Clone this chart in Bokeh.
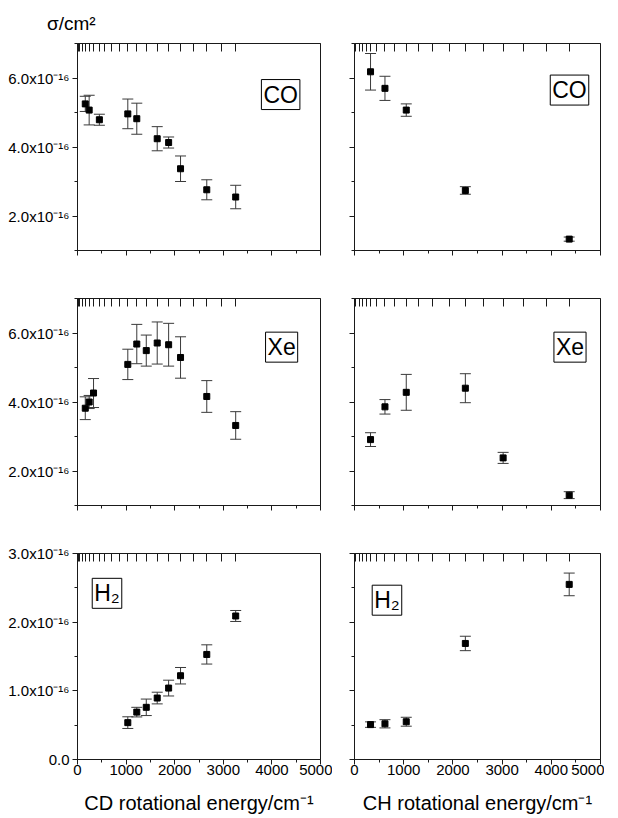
from bokeh.plotting import figure
from bokeh.models import (ColumnDataSource, Whisker, TeeHead, Label, LinearAxis, FixedTicker,
                          SingleIntervalTicker, CustomJSTickFormatter, Range1d, Div)
from bokeh.layouts import column, row
from bokeh.embed import file_html
from bokeh.resources import INLINE

# cross sections in units of 1e-16 cm^2
cd_levels = [16, 47, 94, 160, 240, 330, 450, 562, 702, 858, 1035, 1220, 1415, 1640,
             1875, 2120, 2387, 2660, 2964, 3255]
ch_levels = [30, 96, 163, 238, 326, 442, 619, 822, 1052, 1303, 1595, 1921, 2253, 2626,
             3021, 3441, 3896, 4364]

cd_co_x = [160, 240, 450, 1035, 1220, 1640, 1875, 2120, 2660, 3255]
cd_co_y = [5.25, 5.07, 4.79, 4.96, 4.82, 4.24, 4.13, 3.37, 2.76, 2.55]
cd_co_err = [0.22, 0.43, 0.16, 0.43, 0.45, 0.35, 0.16, 0.37, 0.29, 0.34]

ch_co_x = [326, 619, 1052, 2253, 4364]
ch_co_y = [6.18, 5.70, 5.07, 2.74, 1.33]
ch_co_err = [0.53, 0.35, 0.18, 0.11, 0.06]

cd_xe_x = [160, 240, 330, 1035, 1220, 1415, 1640, 1875, 2120, 2660, 3255]
cd_xe_y = [3.82, 4.00, 4.26, 5.09, 5.68, 5.49, 5.71, 5.66, 5.29, 4.16, 3.32]
cd_xe_err = [0.33, 0.19, 0.42, 0.44, 0.57, 0.45, 0.61, 0.62, 0.60, 0.46, 0.40]

ch_xe_x = [326, 619, 1052, 2253, 3021, 4364]
ch_xe_y = [2.91, 3.86, 4.28, 4.40, 2.38, 1.30]
ch_xe_err = [0.20, 0.21, 0.52, 0.42, 0.16, 0.10]

cd_h2_x = [1035, 1220, 1415, 1640, 1875, 2120, 2660, 3255]
cd_h2_y = [0.537, 0.69, 0.76, 0.895, 1.04, 1.22, 1.53, 2.09]
cd_h2_err = [0.085, 0.07, 0.12, 0.085, 0.115, 0.12, 0.14, 0.08]

ch_h2_x = [326, 619, 1052, 2253, 4364]
ch_h2_y = [0.508, 0.52, 0.55, 1.69, 2.55]
ch_h2_err = [0.04, 0.06, 0.065, 0.105, 0.165]

FONT = "Liberation Sans"
INK = "#1a1a1a"


def panel(xs, ys, errs, levels, yr, yint, species, lab_xy, left_col, bottom_row,
          xtitle=None, top_row=False):
    fw = 243 if left_col else 246
    fh = 206 if bottom_row else 207
    mbl = 77 if left_col else 22
    mbr = 12 if left_col else 4
    mbt = 8 if top_row else 28
    mbb = 58 if bottom_row else 20
    p = figure(width=mbl + fw + mbr, height=mbt + fh + mbb,
               min_border_left=mbl, min_border_right=mbr,
               min_border_top=mbt, min_border_bottom=mbb,
               x_range=Range1d(0, 5000), y_range=Range1d(*yr),
               output_backend="svg", toolbar_location=None)
    p.grid.visible = False
    p.outline_line_color = INK
    p.background_fill_color = "white"
    p.border_fill_color = "white"

    xa = p.xaxis[0]
    xa.ticker = SingleIntervalTicker(interval=1000, num_minor_ticks=2)
    xa.major_tick_in = 0
    xa.major_tick_out = 5
    xa.minor_tick_in = 0
    xa.minor_tick_out = 3
    xa.axis_line_color = INK
    xa.major_tick_line_color = INK
    xa.minor_tick_line_color = INK
    xa.major_label_text_font = FONT
    xa.major_label_text_color = "black"
    if bottom_row:
        xa.major_label_text_font_size = "15px"
        xa.major_label_standoff = 0
        xa.axis_label = xtitle
        xa.axis_label_text_font = FONT
        xa.axis_label_text_font_size = "20px"
        xa.axis_label_text_font_style = "normal"
        xa.axis_label_text_color = "black"
        xa.axis_label_standoff = 14
    else:
        xa.major_label_text_font_size = "0px"
        xa.formatter = CustomJSTickFormatter(code="return '';")

    ya = p.yaxis[0]
    ya.ticker = SingleIntervalTicker(interval=yint, num_minor_ticks=2)
    ya.major_tick_in = 0
    ya.major_tick_out = 5
    ya.minor_tick_in = 0
    ya.minor_tick_out = 3
    ya.axis_line_color = INK
    ya.major_tick_line_color = INK
    ya.minor_tick_line_color = INK
    if left_col:
        ya.formatter = CustomJSTickFormatter(
            code="return tick == 0 ? '0.0' : tick.toFixed(1) + 'x10⁻¹⁶';")
        ya.major_label_text_font = FONT
        ya.major_label_text_font_size = "15px"
        ya.major_label_text_color = "black"
        ya.major_label_standoff = 3
    else:
        ya.formatter = CustomJSTickFormatter(code="return '';")
        ya.major_label_text_font_size = "0px"

    top = LinearAxis(ticker=FixedTicker(ticks=levels),
                     formatter=CustomJSTickFormatter(code="return '';"),
                     major_label_text_font_size="0px",
                     major_tick_in=8, major_tick_out=0,
                     major_tick_line_color=INK, axis_line_color=INK,
                     minor_tick_line_color=None, major_label_standoff=0)
    p.add_layout(top, "above")

    lower = [y - e for y, e in zip(ys, errs)]
    upper = [y + e for y, e in zip(ys, errs)]
    src = ColumnDataSource(dict(x=xs, y=ys, lower=lower, upper=upper))
    w = Whisker(base="x", lower="lower", upper="upper", source=src, dimension="height",
                line_color="#3a3a3a", line_width=1,
                upper_head=TeeHead(size=11, line_color="#3a3a3a", line_width=1),
                lower_head=TeeHead(size=11, line_color="#3a3a3a", line_width=1))
    p.add_layout(w)
    p.scatter("x", "y", source=src, marker="square", size=6, color="black")

    lab = Label(x=lab_xy[0], y=lab_xy[1], text=species, text_font=FONT,
                text_font_size="23px", text_color="black",
                text_align="center", text_baseline="middle",
                border_line_color="black", border_line_width=1,
                background_fill_color="white", padding=2)
    p.add_layout(lab)
    return p


p1 = panel(cd_co_x, cd_co_y, cd_co_err, cd_levels, (1.0, 7.0), 2, "CO", (4180, 5.52),
           True, False, top_row=True)
p2 = panel(ch_co_x, ch_co_y, ch_co_err, ch_levels, (1.0, 7.0), 2, "CO", (4370, 5.65),
           False, False, top_row=True)
p3 = panel(cd_xe_x, cd_xe_y, cd_xe_err, cd_levels, (1.0, 7.0), 2, "Xe", (4200, 5.59),
           True, False)
p4 = panel(ch_xe_x, ch_xe_y, ch_xe_err, ch_levels, (1.0, 7.0), 2, "Xe", (4380, 5.59),
           False, False)
p5 = panel(cd_h2_x, cd_h2_y, cd_h2_err, cd_levels, (0.0, 3.0), 1, "H₂", (607, 2.42),
           True, True, xtitle="CD rotational energy/cm⁻¹")
p6 = panel(ch_h2_x, ch_h2_y, ch_h2_err, ch_levels, (0.0, 3.0), 1, "H₂", (660, 2.32),
           False, True, xtitle="CH rotational energy/cm⁻¹")

ylab = Div(text="σ/cm²", width=300, height=35, margin=(0, 0, 0, 0),
           styles={"font-family": "Liberation Sans", "font-size": "19px",
                   "color": "black", "padding-left": "47px", "padding-top": "13px",
                   "line-height": "21px", "box-sizing": "border-box"})

layout = column(ylab, row(p1, p2), row(p3, p4), row(p5, p6))
open("out.html", "w").write(file_html(layout, INLINE))
